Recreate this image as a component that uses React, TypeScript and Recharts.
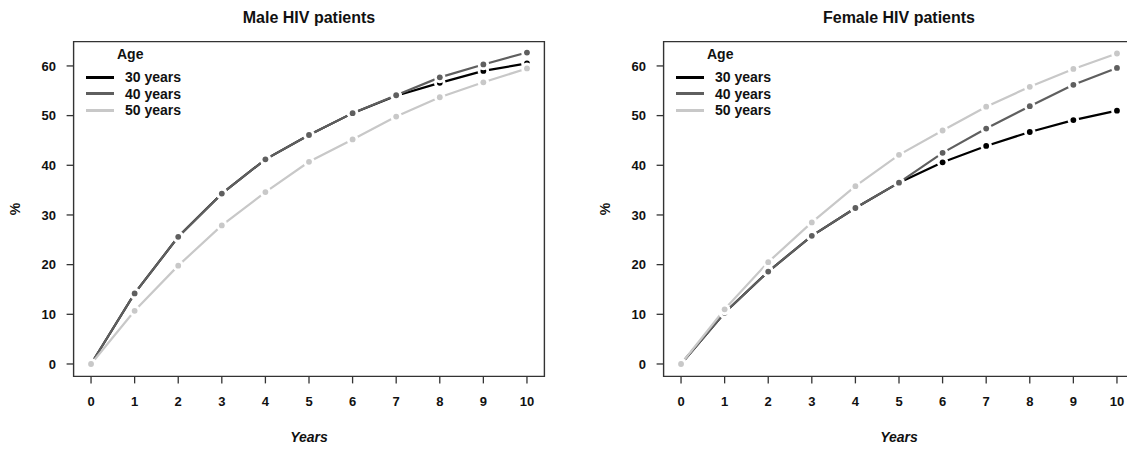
import { Legend, Line, LineChart, ReferenceArea, XAxis, YAxis } from 'recharts';

const years = [0, 1, 2, 3, 4, 5, 6, 7, 8, 9, 10];
const yTicks = [0, 10, 20, 30, 40, 50, 60];

const male30 = [0, 14.2, 25.6, 34.3, 41.2, 46.1, 50.5, 54.0, 56.6, 59.0, 60.5];
const male40 = [0, 14.2, 25.6, 34.3, 41.2, 46.1, 50.5, 54.1, 57.7, 60.3, 62.7];
const male50 = [0, 10.7, 19.8, 27.9, 34.6, 40.7, 45.2, 49.8, 53.7, 56.7, 59.5];

const female30 = [0, 10.3, 18.6, 25.8, 31.4, 36.5, 40.6, 43.9, 46.7, 49.1, 51.0];
const female40 = [0, 10.3, 18.6, 25.8, 31.4, 36.5, 42.5, 47.4, 51.9, 56.2, 59.6];
const female50 = [0, 11.0, 20.5, 28.5, 35.8, 42.1, 47.0, 51.8, 55.8, 59.4, 62.5];

const ageLabels = ['30 years', '40 years', '50 years'];
const ageColors = ['#000000', '#5f5f5f', '#c8c8c8'];
const seriesKeys = ['a30', 'a40', 'a50'];

const FONT = '"Liberation Sans", Arial, sans-serif';
const X_DOMAIN: [number, number] = [-0.4, 10.4];
const Y_DOMAIN: [number, number] = [-2.5, 64.9];

// R-style "b" points: white halo breaks the line around each point
const makeDot = (color: string) => (props: any) => {
  const { cx, cy, index } = props;
  if (cx == null || cy == null) return <g key={`d-${index}`} />;
  return (
    <g key={`d-${index}`}>
      <circle cx={cx} cy={cy} r={5.8} fill="#ffffff" />
      <circle cx={cx} cy={cy} r={2.9} fill={color} />
    </g>
  );
};

const YLabel = (props: any) => {
  const vb = props.viewBox || { y: 0, height: 0 };
  const cy = vb.y + vb.height / 2;
  return (
    <text
      x={15}
      y={cy}
      dy="0.35em"
      transform={`rotate(-90 15 ${cy})`}
      textAnchor="middle"
      fontFamily={FONT}
      fontWeight="bold"
      fontSize={14}
      fill="#111"
    >
      %
    </text>
  );
};

const XLabel = (props: any) => {
  const vb = props.viewBox || { x: 0, y: 0, width: 0 };
  return (
    <text
      x={vb.x + vb.width / 2}
      y={vb.y + 66}
      textAnchor="middle"
      fontFamily={FONT}
      fontWeight="bold"
      fontStyle="italic"
      fontSize={14}
      fill="#111"
    >
      Years
    </text>
  );
};

const renderLegend = (props: any) => {
  const payload = props.payload || [];
  return (
    <div style={{ fontFamily: FONT, fontWeight: 'bold', fontSize: 14, color: '#111' }}>
      <div style={{ height: 16, lineHeight: '16px', marginLeft: 31, marginBottom: 7 }}>Age</div>
      {payload.map((entry: any) => (
        <div
          key={entry.value}
          style={{ display: 'flex', alignItems: 'center', height: 16.5, lineHeight: '16.5px' }}
        >
          <span
            style={{ display: 'inline-block', width: 28, height: 3, background: entry.color, marginRight: 11 }}
          />
          <span>{entry.value}</span>
        </div>
      ))}
    </div>
  );
};

type PanelProps = {
  title: string;
  left: number;
  series: number[][];
};

function Panel({ title, left, series }: PanelProps) {
  const rows = years.map((year, i) => ({
    year,
    a30: series[0][i],
    a40: series[1][i],
    a50: series[2][i],
  }));

  return (
    <div style={{ position: 'absolute', left, top: 0, width: 560, height: 449 }}>
      <div
        style={{
          position: 'absolute',
          left: 73.6,
          width: 470.8,
          top: 8,
          height: 20,
          lineHeight: '20px',
          textAlign: 'center',
          fontFamily: FONT,
          fontWeight: 'bold',
          fontSize: 16,
          color: '#111',
        }}
      >
        {title}
      </div>
      <LineChart width={560} height={449} data={rows} margin={{ top: 41.6, right: 15.6, bottom: 42.6, left: 0 }}>
        <XAxis
          dataKey="year"
          type="number"
          domain={X_DOMAIN}
          ticks={years}
          allowDataOverflow
          axisLine={false}
          tickLine={{ stroke: '#333', strokeWidth: 1.3 }}
          tickSize={7}
          tickMargin={13.6}
          height={30}
          interval={0}
          tick={{ fontSize: 13, fontWeight: 'bold', fill: '#111', fontFamily: FONT }}
          label={<XLabel />}
        />
        <YAxis
          type="number"
          domain={Y_DOMAIN}
          ticks={yTicks}
          allowDataOverflow
          axisLine={false}
          tickLine={{ stroke: '#333', strokeWidth: 1.3 }}
          tickSize={7}
          tickMargin={10.6}
          width={73.6}
          interval={0}
          tick={{ fontSize: 13, fontWeight: 'bold', fill: '#111', fontFamily: FONT }}
          label={<YLabel />}
        />
        <ReferenceArea
          x1={X_DOMAIN[0]}
          x2={X_DOMAIN[1]}
          y1={Y_DOMAIN[0]}
          y2={Y_DOMAIN[1]}
          fill="none"
          stroke="#333"
          strokeWidth={1.4}
          ifOverflow="visible"
        />
        {seriesKeys.map((key, i) => (
          <Line
            key={key}
            dataKey={key}
            name={ageLabels[i]}
            type="linear"
            stroke={ageColors[i]}
            strokeWidth={2.2}
            dot={makeDot(ageColors[i])}
            activeDot={false}
            isAnimationActive={false}
          />
        ))}
        <Legend
          layout="vertical"
          align="center"
          verticalAlign="middle"
          wrapperStyle={{ top: 46, left: 86, width: 'auto', height: 'auto' }}
          content={renderLegend}
        />
      </LineChart>
    </div>
  );
}

export default function App() {
  return (
    <div
      style={{
        position: 'absolute',
        left: 0,
        top: 0,
        width: 1127,
        height: 449,
        overflow: 'hidden',
        background: '#ffffff',
      }}
    >
      <Panel title="Male HIV patients" left={0} series={[male30, male40, male50]} />
      <Panel title="Female HIV patients" left={590} series={[female30, female40, female50]} />
    </div>
  );
}
